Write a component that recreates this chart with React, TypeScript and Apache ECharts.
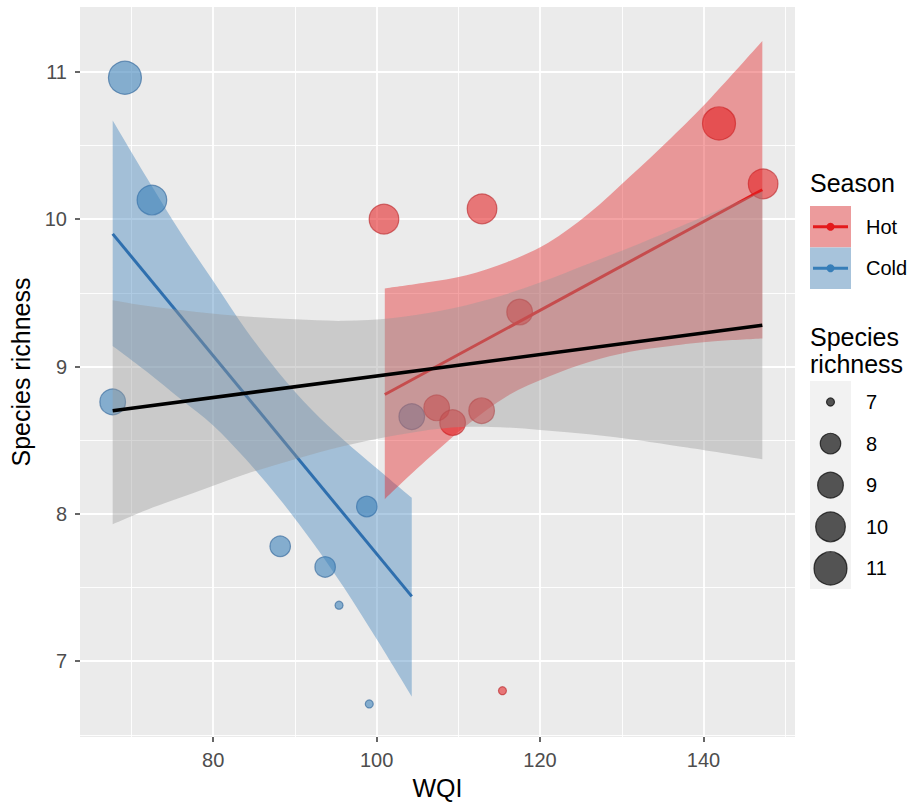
import React, { useEffect, useRef } from "react";
import * as echarts from "echarts";

// ---- data ----
const WQI_COLD = [69.2, 72.5, 67.7, 98.8, 88.2, 93.7, 95.4, 99.1, 104.3];
const RICH_COLD = [10.96, 10.13, 8.76, 8.05, 7.78, 7.64, 7.38, 6.71, 8.66];
const SIZE_COLD = [11, 10, 9, 8, 8, 8, 7, 7, 9];

const WQI_HOT = [100.9, 112.9, 117.5, 107.35, 109.3, 112.85, 141.9, 147.3, 115.4];
const RICH_HOT = [10.0, 10.07, 9.37, 8.72, 8.62, 8.7, 10.65, 10.24, 6.8];
const SIZE_HOT = [10, 10, 9, 9, 9, 9, 11, 10, 7];

const FIT_COLD_X = [67.7, 104.3];
const FIT_COLD_Y = [9.9, 7.44];
const FIT_HOT_X = [101.0, 147.2];
const FIT_HOT_Y = [8.81, 10.2];
const FIT_ALL_X = [67.7, 147.2];
const FIT_ALL_Y = [8.7, 9.28];

const BAND_COLD_X = [67.7, 72, 76, 80, 84, 88, 92, 96, 100, 104.3];
const BAND_COLD_HI = [10.67, 10.27, 9.91, 9.58, 9.25, 8.96, 8.71, 8.5, 8.31, 8.11];
const BAND_COLD_LO = [9.14, 8.96, 8.78, 8.6, 8.37, 8.11, 7.82, 7.5, 7.15, 6.76];

const BAND_HOT_X = [101, 106, 111, 116, 121, 126, 131, 136, 141, 147.2];
const BAND_HOT_HI = [9.53, 9.57, 9.62, 9.71, 9.84, 10.04, 10.29, 10.55, 10.83, 11.21];
const BAND_HOT_LO = [8.1, 8.36, 8.6, 8.8, 8.93, 9.03, 9.1, 9.14, 9.17, 9.19];

const BAND_ALL_X = [67.7, 72, 78, 84, 90, 96, 102, 108, 114, 120, 126, 132, 138, 147.2];
const BAND_ALL_HI = [9.45, 9.41, 9.37, 9.34, 9.32, 9.31, 9.33, 9.38, 9.46, 9.57, 9.7, 9.83, 9.97, 10.19];
const BAND_ALL_LO = [7.93, 8.03, 8.15, 8.27, 8.37, 8.46, 8.53, 8.58, 8.59, 8.57, 8.54, 8.5, 8.45, 8.37];

const X_TICKS = [80, 100, 120, 140];
const X_MINOR = [70, 90, 110, 130, 150];
const Y_TICKS = [7, 8, 9, 10, 11];
const Y_MINOR = [6.5, 7.5, 8.5, 9.5, 10.5];

const SEASONS = ["Hot", "Cold"];
const SIZE_BREAKS = [7, 8, 9, 10, 11];

// ---- styles ----
const FONT = "'Liberation Sans', Arial, Helvetica, sans-serif";
const RED = "#E41A1C";
const BLUE = "#377EB8";
const D_MIN = 8;
const D_MAX = 33;
const diameter = (s: number) =>
  D_MIN + (D_MAX - D_MIN) * Math.sqrt((s - SIZE_BREAKS[0]) / (SIZE_BREAKS[SIZE_BREAKS.length - 1] - SIZE_BREAKS[0]));

// Catmull-Rom spline through pixel points -> SVG path segments (without initial move)
function splineSegs(p: number[][]): string {
  let d = "";
  for (let i = 0; i < p.length - 1; i++) {
    const p0 = p[Math.max(0, i - 1)];
    const p1 = p[i];
    const p2 = p[i + 1];
    const p3 = p[Math.min(p.length - 1, i + 2)];
    const c1x = p1[0] + (p2[0] - p0[0]) / 6;
    const c1y = p1[1] + (p2[1] - p0[1]) / 6;
    const c2x = p2[0] - (p3[0] - p1[0]) / 6;
    const c2y = p2[1] - (p3[1] - p1[1]) / 6;
    d += ` C ${c1x} ${c1y} ${c2x} ${c2y} ${p2[0]} ${p2[1]}`;
  }
  return d;
}

function band(xs: number[], lo: number[], hi: number[], fill: string, z: number) {
  return {
    type: "custom",
    silent: true,
    z,
    data: [[xs[0], lo[0]]],
    renderItem: (_params: any, api: any) => {
      const up = xs.map((x, i) => api.coord([x, hi[i]]));
      const dn = xs.map((x, i) => api.coord([x, lo[i]])).reverse();
      const d =
        `M ${up[0][0]} ${up[0][1]}` +
        splineSegs(up) +
        ` L ${dn[0][0]} ${dn[0][1]}` +
        splineSegs(dn) +
        " Z";
      return { type: "path", shape: { pathData: d }, style: { fill, stroke: "none" } };
    },
  };
}

function fitLine(xs: number[], ys: number[], color: string, width: number, z: number) {
  return {
    type: "line",
    data: xs.map((x, i) => [x, ys[i]]),
    symbol: "none",
    lineStyle: { color, width, cap: "butt" },
    silent: true,
    z,
  };
}

export default function App() {
  const ref = useRef<HTMLDivElement>(null);

  useEffect(() => {
    if (!ref.current) return;
    const chart = echarts.init(ref.current, undefined, { renderer: "svg" });

    const gridLines = [
      ...X_TICKS.map((v) => ({ xAxis: v, lineStyle: { color: "#FFFFFF", width: 1.8, type: "solid" } })),
      ...X_MINOR.map((v) => ({ xAxis: v, lineStyle: { color: "#FFFFFF", width: 0.9, type: "solid" } })),
      ...Y_TICKS.map((v) => ({ yAxis: v, lineStyle: { color: "#FFFFFF", width: 1.8, type: "solid" } })),
      ...Y_MINOR.map((v) => ({ yAxis: v, lineStyle: { color: "#FFFFFF", width: 0.9, type: "solid" } })),
    ];

    const legendX = 810;
    const keyW = 41;
    const keyH = 41.5;
    const seasonColors = [RED, BLUE];
    const seasonFills = ["rgba(228,26,28,0.4)", "rgba(55,126,184,0.4)"];
    const graphic: any[] = [
      {
        type: "text",
        left: legendX,
        top: 170,
        style: { text: "Season", font: `25px ${FONT}`, fill: "#000" },
      },
    ];
    SEASONS.forEach((s, i) => {
      const y0 = 206 + i * keyH;
      graphic.push(
        { type: "rect", shape: { x: legendX, y: y0, width: keyW, height: keyH }, style: { fill: "#F2F2F2" } },
        { type: "rect", shape: { x: legendX, y: y0, width: keyW, height: keyH }, style: { fill: seasonFills[i] } },
        {
          type: "line",
          shape: { x1: legendX + 3, y1: y0 + keyH / 2, x2: legendX + keyW - 3, y2: y0 + keyH / 2 },
          style: { stroke: seasonColors[i], lineWidth: 3 },
        },
        { type: "circle", shape: { cx: legendX + keyW / 2, cy: y0 + keyH / 2, r: 4 }, style: { fill: seasonColors[i] } },
        {
          type: "text",
          x: 866,
          y: y0 + keyH / 2,
          style: { text: s, font: `20px ${FONT}`, fill: "#000", verticalAlign: "middle" },
        }
      );
    });
    graphic.push(
      { type: "text", left: legendX, top: 324, style: { text: "Species", font: `25px ${FONT}`, fill: "#000" } },
      { type: "text", left: legendX, top: 351, style: { text: "richness", font: `25px ${FONT}`, fill: "#000" } },
      { type: "rect", shape: { x: legendX, y: 381, width: keyW, height: 5 * 41.6 }, style: { fill: "#F2F2F2" } }
    );
    SIZE_BREAKS.forEach((s, i) => {
      const cy = 402 + i * 41.6;
      graphic.push(
        {
          type: "circle",
          shape: { cx: legendX + keyW / 2, cy, r: diameter(s) / 2 },
          style: { fill: "rgba(0,0,0,0.66)", stroke: "rgba(0,0,0,0.7)", lineWidth: 1.2 },
        },
        {
          type: "text",
          x: 866,
          y: cy,
          style: { text: String(s), font: `20px ${FONT}`, fill: "#000", verticalAlign: "middle" },
        }
      );
    });

    const option: any = {
      animation: false,
      backgroundColor: "#FFFFFF",
      textStyle: { fontFamily: FONT },
      grid: {
        left: 80,
        top: 7,
        right: 127,
        bottom: 67,
        show: true,
        backgroundColor: "#EBEBEB",
        borderWidth: 0,
      },
      xAxis: {
        type: "value",
        min: 63.7,
        max: 151.2,
        axisLine: { show: false },
        axisTick: { show: true, length: 5, customValues: X_TICKS, lineStyle: { color: "#333333", width: 1.5 } },
        axisLabel: { customValues: X_TICKS, color: "#4D4D4D", fontSize: 20, margin: 13, fontFamily: FONT },
        splitLine: { show: false },
        name: "WQI",
        nameLocation: "middle",
        nameGap: 36,
        nameTextStyle: { fontSize: 25, color: "#000", fontFamily: FONT },
      },
      yAxis: {
        type: "value",
        min: 6.485,
        max: 11.44,
        axisLine: { show: false },
        axisTick: { show: true, length: 5, customValues: Y_TICKS, lineStyle: { color: "#333333", width: 1.5 } },
        axisLabel: { customValues: Y_TICKS, color: "#4D4D4D", fontSize: 20, margin: 13, fontFamily: FONT },
        splitLine: { show: false },
        name: "Species richness",
        nameLocation: "middle",
        nameGap: 44,
        nameTextStyle: { fontSize: 25, color: "#000", fontFamily: FONT },
      },
      graphic,
      series: [
        {
          type: "line",
          data: [],
          silent: true,
          z: 1,
          markLine: {
            silent: true,
            z: 1,
            symbol: ["none", "none"],
            label: { show: false },
            animation: false,
            data: gridLines,
          },
        },
        {
          type: "scatter",
          name: "Cold",
          data: WQI_COLD.map((x, i) => [x, RICH_COLD[i], SIZE_COLD[i]]),
          symbolSize: (v: number[]) => diameter(v[2]),
          itemStyle: { color: "rgba(55,126,184,0.72)", borderColor: "rgba(40,95,150,0.75)", borderWidth: 1.2 },
          silent: true,
          z: 2,
        },
        {
          type: "scatter",
          name: "Hot",
          data: WQI_HOT.map((x, i) => [x, RICH_HOT[i], SIZE_HOT[i]]),
          symbolSize: (v: number[]) => diameter(v[2]),
          itemStyle: { color: "rgba(228,26,28,0.7)", borderColor: "rgba(180,20,24,0.7)", borderWidth: 1.2 },
          silent: true,
          z: 2,
        },
        band(BAND_COLD_X, BAND_COLD_LO, BAND_COLD_HI, "rgba(55,126,184,0.4)", 3),
        band(BAND_HOT_X, BAND_HOT_LO, BAND_HOT_HI, "rgba(228,26,28,0.4)", 3),
        fitLine(FIT_COLD_X, FIT_COLD_Y, "#2F6FAE", 3, 4),
        fitLine(FIT_HOT_X, FIT_HOT_Y, RED, 3, 4),
        band(BAND_ALL_X, BAND_ALL_LO, BAND_ALL_HI, "rgba(153,153,153,0.4)", 5),
        fitLine(FIT_ALL_X, FIT_ALL_Y, "#000000", 3.6, 6),
      ],
    };

    chart.setOption(option);
    return () => chart.dispose();
  }, []);

  return (
    <div
      ref={ref}
      style={{ position: "fixed", left: 0, top: 0, width: 922, height: 805, background: "#fff" }}
    />
  );
}
